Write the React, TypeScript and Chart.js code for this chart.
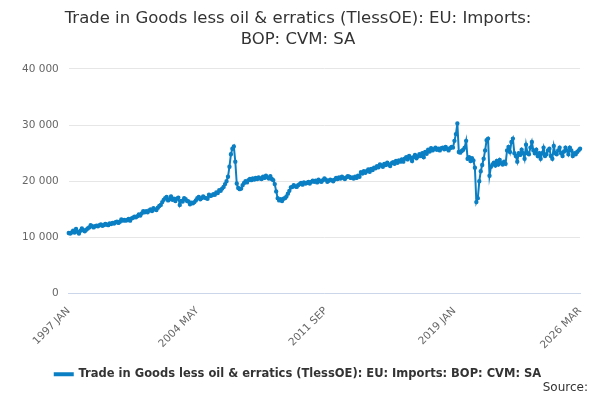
import { useEffect, useRef } from "react"
import { Chart, registerables } from "chart.js"

Chart.register(...registerables)

const MONTHS = ["JAN", "FEB", "MAR", "APR", "MAY", "JUN", "JUL", "AUG", "SEP", "OCT", "NOV", "DEC"]

// monthly values, £m, by year
const y1997 = [10800, 10700, 10900, 11200, 10900, 11500, 11000, 10700, 11200, 11600, 11300, 11100]
const y1998 = [11400, 11600, 11800, 12200, 12000, 11800, 12000, 12100, 12000, 12200, 12300, 12100]
const y1999 = [12200, 12400, 12300, 12200, 12500, 12400, 12600, 12500, 12700, 12800, 12600, 12800]
const y2000 = [13200, 13000, 13100, 13000, 13100, 13300, 13000, 13400, 13500, 13700, 13600, 13800]
const y2001 = [14100, 13900, 14300, 14700, 14500, 14700, 14500, 14800, 15000, 14700, 15200, 15000]
const y2002 = [14900, 15300, 15600, 15800, 16300, 16700, 17000, 17200, 16600, 16800, 17300, 16700]
const y2003 = [16900, 16500, 16900, 17100, 15800, 16500, 16400, 17000, 16800, 16500, 16400, 15900]
const y2004 = [16200, 16100, 16300, 16600, 17000, 17200, 16800, 17000, 17300, 17100, 17000, 16900]
const y2005 = [17600, 17400, 17500, 17700, 17600, 18000, 17900, 18400, 18300, 18700, 19000, 19500]
const y2006 = [20000, 20800, 22600, 24800, 25800, 26200, 23500, 19600, 18800, 18600, 18700, 19300]
const y2007 = [19700, 20000, 19800, 20200, 20400, 20200, 20500, 20300, 20600, 20400, 20700, 20500]
const y2008 = [20400, 20800, 20600, 21000, 20700, 20500, 20900, 20400, 20200, 19500, 18200, 17000]
const y2009 = [16600, 16800, 16500, 16900, 17000, 17300, 17800, 18300, 18900, 19000, 19300, 19100]
const y2010 = [19000, 19300, 19500, 19700, 19400, 19800, 19600, 19700, 19900, 19600, 19900, 20100]
const y2011 = [19900, 20100, 19800, 20300, 20000, 19900, 20200, 20500, 20300, 19900, 20100, 20300]
const y2012 = [20200, 20000, 20300, 20600, 20400, 20700, 20500, 20800, 20600, 20400, 20700, 20900]
const y2013 = [20800, 20600, 20700, 20500, 20800, 20600, 21000, 20800, 21600, 21400, 21800, 21500]
const y2014 = [21800, 22100, 21700, 22200, 22000, 22400, 22300, 22700, 22500, 23000, 22800, 22600]
const y2015 = [23100, 22900, 23300, 23000, 22700, 23200, 23400, 23100, 23600, 23300, 23700, 23500]
const y2016 = [23900, 23500, 24000, 24300, 23900, 24500, 24200, 23600, 24300, 24700, 24100, 24400]
const y2017 = [24800, 24500, 25000, 24300, 25200, 24900, 25600, 25300, 25900, 25500, 25700, 26000]
const y2018 = [25600, 25800, 25500, 25900, 26000, 25700, 26100, 25800, 25500, 25900, 26100, 26000]
const y2019 = [27200, 28400, 30300, 25200, 25100, 25400, 25600, 26000, 27200, 24000, 24300, 23600]
const y2020 = [24100, 23700, 22400, 16300, 17000, 20000, 21800, 22900, 24000, 25500, 27300, 27600]
const y2021 = [21000, 22600, 23000, 23300, 22800, 23600, 23000, 23800, 23200, 23000, 23500, 23100]
const y2022 = [25500, 26100, 25200, 27000, 27600, 25000, 24500, 23500, 25000, 24700, 25600, 25000]
const y2023 = [24000, 26500, 25000, 24800, 26000, 27000, 25500, 25000, 25600, 24500, 25000, 24000]
const y2024 = [25000, 26000, 24500, 24800, 25500, 25800, 24500, 24000, 26300, 25000, 24800, 25500]
const y2025 = [26000, 25000, 24500, 25300, 26000, 25500, 24800, 26000, 25500, 24500, 25000, 24800]
const y2026 = [25200, 25500, 25800]

const years = [y1997, y1998, y1999, y2000, y2001, y2002, y2003, y2004, y2005, y2006, y2007, y2008, y2009,
  y2010, y2011, y2012, y2013, y2014, y2015, y2016, y2017, y2018, y2019, y2020, y2021, y2022, y2023, y2024,
  y2025, y2026]

const labels: string[] = []
const values: number[] = []
years.forEach((ys, i) => {
  ys.forEach((v, m) => {
    labels.push(`${1997 + i} ${MONTHS[m]}`)
    values.push(v)
  })
})

const shownTicks = ["1997 JAN", "2004 MAY", "2011 SEP", "2019 JAN", "2026 MAR"]
const seriesName = "Trade in Goods less oil & erratics (TlessOE): EU: Imports: BOP: CVM: SA"
const FONT = "DejaVu Sans"

export default function App() {
  const chartRef = useRef<HTMLCanvasElement>(null)
  const chartInstance = useRef<Chart | null>(null)

  useEffect(() => {
    if (!chartRef.current) return
    if (chartInstance.current) chartInstance.current.destroy()

    chartInstance.current = new Chart(chartRef.current, {
      type: "line",
      data: {
        labels,
        datasets: [
          {
            label: seriesName,
            data: values,
            borderColor: "#0b7fc3",
            backgroundColor: "#0b7fc3",
            borderWidth: 2,
            pointRadius: 1.2,
            pointHoverRadius: 2,
            tension: 0,
          },
        ],
      },
      options: {
        animation: false,
        responsive: true,
        maintainAspectRatio: false,
        layout: { padding: { left: 4, right: 8, bottom: 2 } },
        plugins: {
          title: {
            display: true,
            text: ["Trade in Goods less oil & erratics (TlessOE): EU: Imports:", "BOP: CVM: SA"],
            color: "#333",
            font: { family: FONT, size: 16.5, weight: "normal", lineHeight: 1.3 },
            padding: { top: 0, bottom: 18 },
          },
          legend: {
            position: "bottom",
            labels: {
              color: "#333",
              font: { family: FONT, size: 11.5, weight: "bold" },
              boxWidth: 18,
              boxHeight: 2,
              padding: 14,
            },
          },
          tooltip: { enabled: false },
        },
        scales: {
          y: {
            min: 0,
            max: 40000,
            ticks: {
              stepSize: 10000,
              color: "#666",
              padding: 10,
              font: { family: FONT, size: 10.5 },
              callback: (v) => Number(v).toLocaleString("en-US").replace(/,/g, " "),
            },
            grid: { color: "#e6e6e6", drawTicks: false },
            border: { display: false },
          },
          x: {
            ticks: {
              autoSkip: false,
              maxRotation: 45,
              minRotation: 45,
              color: "#666",
              font: { family: FONT, size: 10.5 },
              callback: (_v, i) => (shownTicks.includes(labels[i]) ? labels[i] : null),
            },
            grid: { display: false },
            border: { color: "#ccd6eb" },
          },
        },
      },
    })

    return () => {
      if (chartInstance.current) chartInstance.current.destroy()
    }
  }, [])

  return (
    <div style={{ position: "relative", width: 584, height: 384 }}>
      <canvas ref={chartRef} />
      <div style={{ position: "absolute", right: 4, bottom: -2, fontFamily: FONT, fontSize: 12, color: "#333" }}>
        Source:
      </div>
    </div>
  )
}
